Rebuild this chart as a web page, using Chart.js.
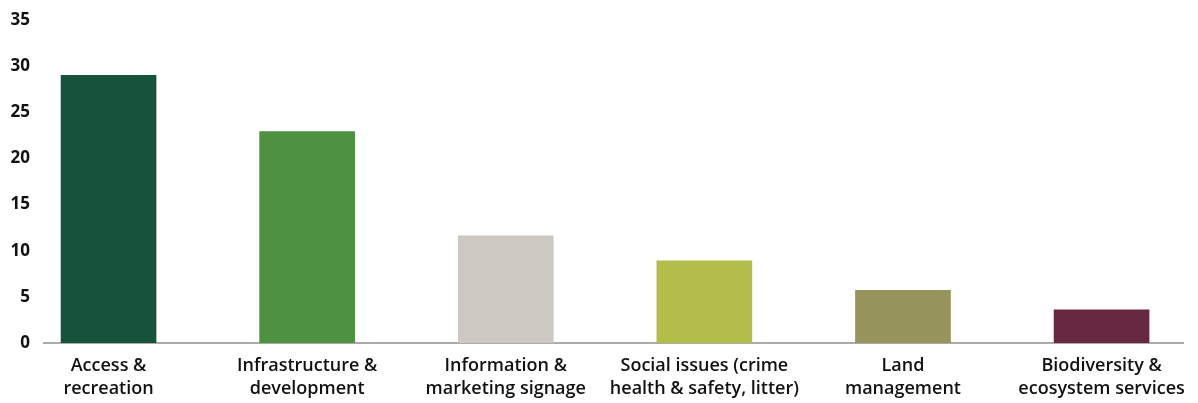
<!DOCTYPE html>
<html>
<head>
<meta charset="utf-8">
<script src="https://cdn.jsdelivr.net/npm/chart.js@4/dist/chart.umd.min.js"></script>
<style>
  html, body { margin: 0; padding: 0; background: #fff; }
  #wrap { width: 1198px; height: 403px; position: relative; }
</style>
</head>
<body>
<div id="wrap"><canvas id="c"></canvas></div>
<script>
// Categories (multi-line axis labels)
const categories = [
  ["Access &", "recreation"],
  ["Infrastructure &", "development"],
  ["Information &", "marketing signage"],
  ["Social issues (crime", "health & safety, litter)"],
  ["Land", "management"],
  ["Biodiversity &", "ecosystem services"]
];
// Values per category
const values = [29, 22.9, 11.6, 8.9, 5.7, 3.6];
// Bar colours per category
const barColors = ["#15543a", "#4e9141", "#cdc9c2", "#b3bd4a", "#97945b", "#68283f"];
// Y axis tick range
const yTicks = [0, 5, 10, 15, 20, 25, 30, 35];

const points = values.map((v, i) => ({ x: i, y: v }));

new Chart(document.getElementById('c'), {
  type: 'bar',
  data: {
    datasets: [{
      data: points,
      backgroundColor: barColors,
      borderWidth: 0,
      barThickness: 95
    }]
  },
  options: {
    responsive: true,
    maintainAspectRatio: false,
    animation: false,
    layout: { padding: { left: 10, right: 15, top: 20, bottom: 0 } },
    plugins: { legend: { display: false }, tooltip: { enabled: false } },
    scales: {
      x: {
        type: 'linear',
        min: -0.325,
        max: 5.41,
        offset: false,
        grid: { display: false, drawTicks: false },
        border: { display: true, color: '#ababab', width: 2 },
        afterBuildTicks: (scale) => {
          scale.ticks = categories.map((_, i) => ({ value: i }));
        },
        afterFit: (scale) => {
          scale.paddingLeft = 0;
          scale.paddingRight = 0;
          scale.height = 60;
        },
        ticks: {
          autoSkip: false,
          maxRotation: 0,
          minRotation: 0,
          padding: 11,
          color: '#111',
          font: { family: 'Open Sans', size: 18, weight: '600', lineHeight: 1.28 },
          callback: (v) => categories[v]
        }
      },
      y: {
        min: yTicks[0],
        max: yTicks[yTicks.length - 1],
        grid: { display: false, drawTicks: false },
        border: { display: false },
        afterBuildTicks: (scale) => {
          scale.ticks = yTicks.map(v => ({ value: v }));
        },
        afterFit: (scale) => {
          scale.width = 34;
          scale.paddingTop = 0;
          scale.paddingBottom = 0;
        },
        ticks: {
          padding: 14,
          color: '#111',
          font: { family: 'Open Sans', size: 17, weight: '700' }
        }
      }
    }
  }
});
</script>
</body>
</html>
